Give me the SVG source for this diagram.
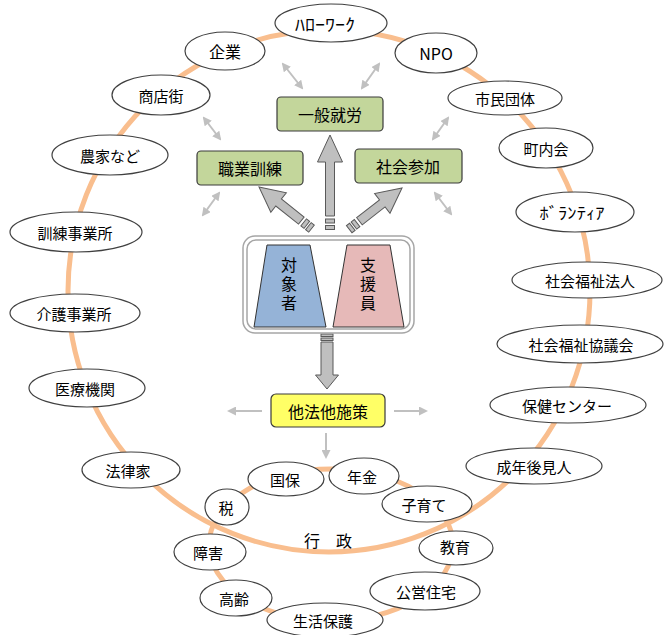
<svg xmlns="http://www.w3.org/2000/svg" width="666" height="635" viewBox="0 0 666 635">
<style>
text{font-family:"Noto Sans CJK JP","Noto Sans",sans-serif;fill:#000;text-anchor:middle;dominant-baseline:central}
.n ellipse{fill:#fff;stroke:#404040;stroke-width:1.2}
.n text{font-size:15px}
.box rect{stroke:#3a3a3a;stroke-width:1.2}
.box text{font-size:16px}
.g{fill:#C3D69B}
.ring{fill:none;stroke:#F9BE8E;stroke-width:5}
.thin{stroke:#C0C0C0;stroke-width:2;fill:none}
.big{fill:#BFBFBF;stroke:#595959;stroke-width:1}
.vt{font-size:16px;writing-mode:vertical-rl;letter-spacing:3px}
</style>
<defs>
<marker id="ah" markerWidth="9" markerHeight="9" refX="7" refY="4.5" orient="auto-start-reverse" markerUnits="userSpaceOnUse"><path d="M0,0 L9,4.5 L0,9 z" fill="#C0C0C0"/></marker>
</defs>
<g id="connectors">
<circle class="ring" cx="329" cy="291" r="261"/>
<ellipse class="ring" cx="331" cy="545" rx="122" ry="76"/>
<line class="thin" x1="283" y1="64" x2="302" y2="88" marker-start="url(#ah)" marker-end="url(#ah)"/>
<line class="thin" x1="379" y1="64" x2="362" y2="88" marker-start="url(#ah)" marker-end="url(#ah)"/>
<line class="thin" x1="204" y1="118" x2="220" y2="139" marker-start="url(#ah)" marker-end="url(#ah)"/>
<line class="thin" x1="448" y1="118" x2="433" y2="139" marker-start="url(#ah)" marker-end="url(#ah)"/>
<line class="thin" x1="219" y1="193" x2="203" y2="215" marker-start="url(#ah)" marker-end="url(#ah)"/>
<line class="thin" x1="435" y1="193" x2="451" y2="214" marker-start="url(#ah)" marker-end="url(#ah)"/>
<line class="thin" x1="262" y1="411" x2="229" y2="411" marker-end="url(#ah)"/>
<line class="thin" x1="394" y1="411" x2="426" y2="411" marker-end="url(#ah)"/>
<line class="thin" x1="326" y1="433" x2="326" y2="457" marker-end="url(#ah)"/>
<g class="big" transform="translate(330,135)">
<path d="M0,0 L12.5,27 L4.5,27 L4.5,81 L-4.5,81 L-4.5,27 L-12.5,27 Z"/>
<rect x="-4.5" y="84" width="9" height="4"/><rect x="-4.5" y="90.5" width="9" height="4"/>
</g>
<g class="big" transform="translate(259,187) rotate(-51.6)">
<path d="M0,0 L12.5,25 L4.5,25 L4.5,54 L-4.5,54 L-4.5,25 L-12.5,25 Z"/>
<rect x="-4.5" y="57" width="9" height="4"/><rect x="-4.5" y="63" width="9" height="4"/>
</g>
<g class="big" transform="translate(402,188) rotate(52)">
<path d="M0,0 L12.5,25 L4.5,25 L4.5,54 L-4.5,54 L-4.5,25 L-12.5,25 Z"/>
<rect x="-4.5" y="57" width="9" height="4"/><rect x="-4.5" y="63" width="9" height="4"/>
</g>
<g class="big" transform="translate(327,389) rotate(180)">
<path d="M0,0 L11.5,14 L6,14 L6,47 L-6,47 L-6,14 L-11.5,14 Z"/>
<rect x="-6" y="48.5" width="12" height="2.5"/><rect x="-6" y="52.5" width="12" height="2.5"/>
</g>
</g>
<g id="center">
<rect x="243" y="236" width="171" height="97" rx="12" fill="#fff" stroke="#A6A6A6" stroke-width="1.5"/>
<rect x="247" y="240" width="163" height="89" rx="9" fill="none" stroke="#A6A6A6" stroke-width="1.5"/>
</g>
<g id="taishosha">
<path d="M267,245 L310,245 L326,327 L254,327 Z" fill="#95B3D7" stroke="#333" stroke-width="1"/>
<text class="vt" x="289" y="285">対象者</text>
</g>
<g id="shienin">
<path d="M347,245 L390,245 L404,327 L333,327 Z" fill="#E6B9B8" stroke="#333" stroke-width="1"/>
<text class="vt" x="368" y="285">支援員</text>
</g>
<g id="ippan" class="box"><rect class="g" x="277" y="97" width="106" height="34" rx="4"/><text x="330" y="114">一般就労</text></g>
<g id="shokugyo" class="box"><rect class="g" x="197" y="151" width="106" height="34" rx="4"/><text x="250" y="168">職業訓練</text></g>
<g id="shakai" class="box"><rect class="g" x="355" y="149" width="107" height="34" rx="4"/><text x="408" y="166">社会参加</text></g>
<g id="tahou" class="box"><rect x="271" y="394" width="114" height="33" rx="5" fill="#FFFF66"/><text x="328" y="411">他法他施策</text></g>
<g id="gyosei"><text x="328" y="540" font-size="16">行　政</text></g>
<g id="hellowork" class="n"><ellipse cx="331" cy="23" rx="56" ry="19"/><text x="325" y="23" style="font-size:17px" textLength="60" lengthAdjust="spacingAndGlyphs">ﾊﾛｰﾜｰｸ</text></g>
<g id="kigyo" class="n"><ellipse cx="225" cy="51" rx="40" ry="19"/><text x="225" y="51" style="font-size:16px">企業</text></g>
<g id="npo" class="n"><ellipse cx="436" cy="53" rx="41" ry="20"/><text x="436" y="53" style="font-size:16px">NPO</text></g>
<g id="shimin" class="n"><ellipse cx="505" cy="98" rx="57" ry="17"/><text x="505" y="98">市民団体</text></g>
<g id="chonai" class="n"><ellipse cx="546" cy="148" rx="47" ry="20"/><text x="546" y="148">町内会</text></g>
<g id="volunteer" class="n"><ellipse cx="575" cy="212" rx="59" ry="20"/><text x="572" y="212" style="font-size:16px" textLength="65" lengthAdjust="spacingAndGlyphs">ﾎﾞﾗﾝﾃｨｱ</text></g>
<g id="fukushihojin" class="n"><ellipse cx="587" cy="280" rx="75" ry="18"/><text x="590" y="280">社会福祉法人</text></g>
<g id="shakyo" class="n"><ellipse cx="580" cy="344" rx="83" ry="19"/><text x="581" y="344">社会福祉協議会</text></g>
<g id="hoken" class="n"><ellipse cx="568" cy="405" rx="78" ry="18"/><text x="567" y="405">保健センター</text></g>
<g id="seinen" class="n"><ellipse cx="534" cy="466" rx="68" ry="18"/><text x="534" y="466">成年後見人</text></g>
<g id="shotengai" class="n"><ellipse cx="161" cy="95" rx="49" ry="20"/><text x="161" y="95">商店街</text></g>
<g id="noka" class="n"><ellipse cx="110" cy="155" rx="58" ry="20"/><text x="110" y="155">農家など</text></g>
<g id="kunren" class="n"><ellipse cx="76" cy="232" rx="66" ry="20"/><text x="75" y="232">訓練事業所</text></g>
<g id="kaigo" class="n"><ellipse cx="75" cy="313" rx="65" ry="19"/><text x="74" y="313">介護事業所</text></g>
<g id="iryo" class="n"><ellipse cx="87" cy="388" rx="58" ry="19"/><text x="85" y="388">医療機関</text></g>
<g id="horitsu" class="n"><ellipse cx="131" cy="470" rx="49" ry="18"/><text x="128" y="470">法律家</text></g>
<g id="kokuho" class="n"><ellipse cx="286" cy="479" rx="38" ry="17"/><text x="285" y="479">国保</text></g>
<g id="nenkin" class="n"><ellipse cx="364" cy="476" rx="35" ry="18"/><text x="362" y="476">年金</text></g>
<g id="kosodate" class="n"><ellipse cx="427" cy="504" rx="45" ry="18"/><text x="424" y="504">子育て</text></g>
<g id="zei" class="n"><ellipse cx="227" cy="507" rx="22" ry="18"/><text x="226" y="507">税</text></g>
<g id="shogai" class="n"><ellipse cx="210" cy="552" rx="36" ry="18"/><text x="208" y="552">障害</text></g>
<g id="kyoiku" class="n"><ellipse cx="456" cy="548" rx="37" ry="17"/><text x="455" y="546">教育</text></g>
<g id="korei" class="n"><ellipse cx="236" cy="598" rx="36" ry="18"/><text x="234" y="598">高齢</text></g>
<g id="koei" class="n"><ellipse cx="425" cy="591" rx="55" ry="19"/><text x="426" y="591">公営住宅</text></g>
<g id="seikatsu" class="n"><ellipse cx="325" cy="620" rx="58" ry="17"/><text x="323" y="620">生活保護</text></g>
</svg>
